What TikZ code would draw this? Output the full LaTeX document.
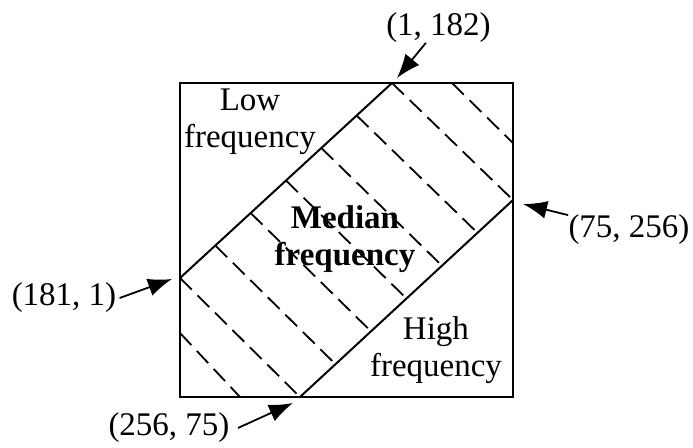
\documentclass[tikz,border=0pt]{standalone}
\usepackage{fontspec}
\setmainfont{Liberation Serif}
\usetikzlibrary{arrows.meta,calc}
\begin{document}
\begin{tikzpicture}[x=0.5pt,y=-0.5pt,
  lbl/.style={inner sep=0pt, align=center, font=\fontsize{16.5}{18.5}\selectfont},
  frame/.style={line width=1.2pt},
  diag/.style={line width=1pt},
  hatch/.style={line width=0.9pt, dash pattern=on 8.3pt off 4pt},
  pointer/.style={line width=0.9pt, -{Latex[length=12pt,width=9pt]}}]
\useasboundingbox (0,0) rectangle (693,447);
% box
\coordinate (bl) at (180,397);
\coordinate (tr) at (513,83);
\draw[frame] (bl) rectangle (tr);
% diagonals
\coordinate (ul) at (180,278);
\coordinate (ur) at (392,83);
\coordinate (ll) at (300,397);
\coordinate (lr) at (513,200);
\draw[diag] (ul) -- (ur);
\draw[diag] (ll) -- (lr);
% hatching
\foreach \k in {0,...,6}
  \draw[hatch] ($(ul)!\k/6!(ur)$) -- ($(ll)!\k/6!(lr)$);
\coordinate (h1a) at (452,83);
\coordinate (h1b) at (513,143);
\coordinate (h2a) at (180,333);
\coordinate (h2b) at (240,397);
\draw[hatch] (h1a) -- (h1b);
\draw[hatch] (h2a) -- (h2b);
% region labels
\node[lbl] (low) at (250,122) {Low\\frequency};
\node[lbl] (med) at (345,239) {\textbf{Median}\\\textbf{frequency}};
\node[lbl] (high) at (436,350) {High\\frequency};
% coordinate labels
\node[lbl] (p1) at (438.5,27.5) {(1, 182)};
\node[lbl] (p2) at (629,230) {(75, 256)};
\node[lbl] (p3) at (64,298) {(181, 1)};
\node[lbl] (p4) at (169,428) {(256, 75)};
\coordinate (t1) at (397,78);
\coordinate (t2) at (523,204);
\coordinate (t3) at (172,279);
\coordinate (t4) at (293,403);
\draw[pointer] (p1) -- (t1);
\draw[pointer] (p2) -- (t2);
\draw[pointer] ([xshift=1.5pt]p3.east) -- (t3);
\draw[pointer] ([xshift=4pt]p4.east) -- (t4);
\end{tikzpicture}
\end{document}
